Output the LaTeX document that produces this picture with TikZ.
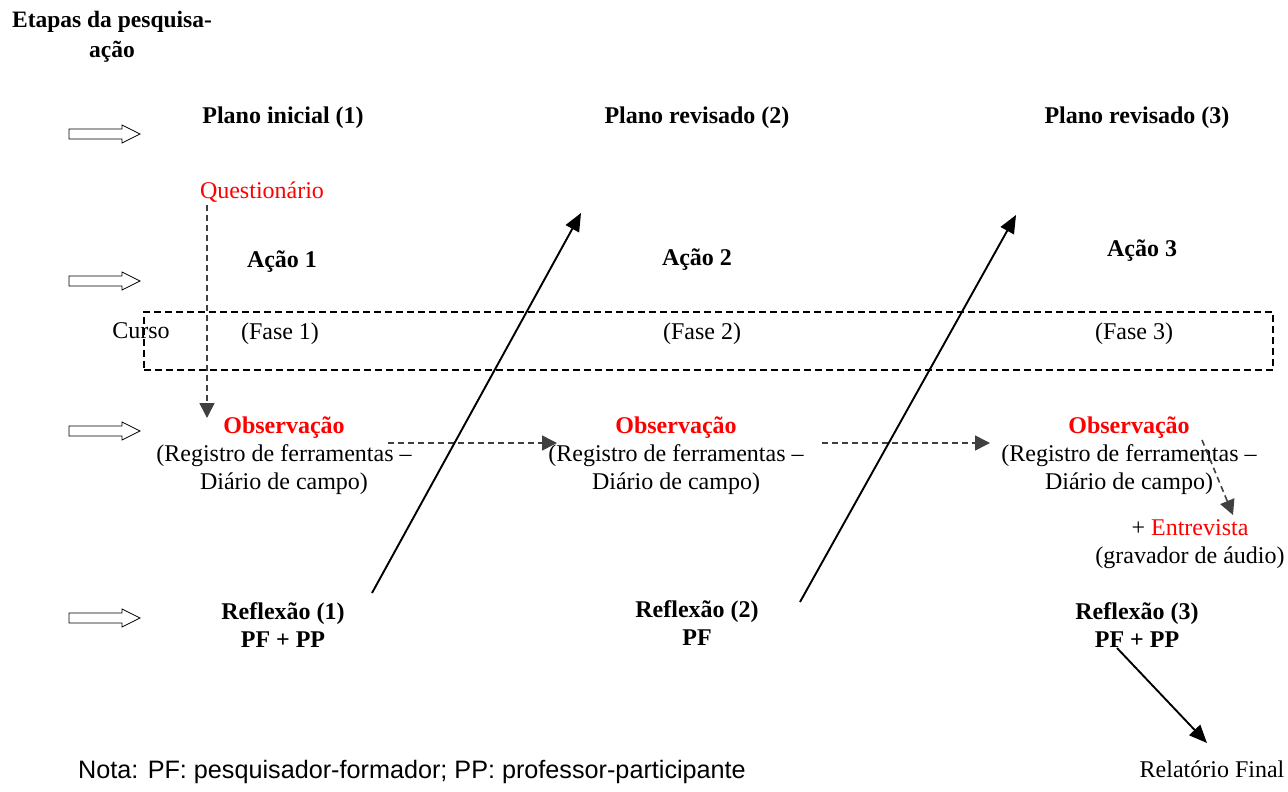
\documentclass[tikz,border=0pt]{standalone}
\usepackage{fontspec}
\setmainfont{Liberation Serif}
\setsansfont{Liberation Sans}
\usetikzlibrary{arrows.meta}
\definecolor{dgray}{HTML}{404040}
\definecolor{pred}{HTML}{FF0000}
\begin{document}
\begin{tikzpicture}[x=1pt,y=-1pt,
  txt/.style={inner sep=0pt, font=\fontsize{24}{28}\selectfont, align=center},
  hd/.style={inner sep=0pt, font=\fontsize{24}{28}\selectfont\bfseries, align=center},
  blockarrow/.style={draw, line width=0.8pt, fill=white},
  solidarrow/.style={-{Triangle[length=18pt,width=15pt]}, line width=1.9pt},
  dasharrow/.style={dgray, line width=1.6pt, dash pattern=on 6pt off 4pt, -{Triangle[length=15pt,width=15pt]}},
  dashbox/.style={draw, line width=1.9pt, dash pattern=on 7pt off 4pt, inner sep=0pt}
]
\useasboundingbox (0,0) rectangle (1288,792);

% block arrows
\foreach \c in {134,281,431,618}
  \draw[blockarrow] (69,\c-5) -- (122,\c-5) -- (122,\c-9) -- (140,\c) -- (122,\c+9) -- (122,\c+5) -- (69,\c+5) -- cycle;

\node[inner sep=0pt, font=\fontsize{23.5}{30}\selectfont\bfseries, align=center] (etapas) at (112,37) {Etapas da pesquisa-\\ação};

\node[hd] (plano1) at (283,118) {Plano inicial (1)};
\node[hd] (plano2) at (697,118) {Plano revisado (2)};
\node[hd] (plano3) at (1137,118) {Plano revisado (3)};

\node[txt, text=pred] (quest) at (262,192) {Questionário};

\node[hd] (acao1) at (282,262) {Ação 1};
\node[hd] (acao2) at (697,260) {Ação 2};
\node[hd] (acao3) at (1142,251) {Ação 3};

\node[dashbox, minimum width=1129pt, minimum height=58pt, anchor=north west] (box) at (143,311) {};
\node[txt] (curso) at (141,331) {Curso};
\node[txt] (fase1) at (280,334) {(Fase 1)};
\node[txt] (fase2) at (702,334) {(Fase 2)};
\node[txt] (fase3) at (1134,334) {(Fase 3)};

\node[txt] (obs1) at (284,456) {\textcolor{pred}{\bfseries Observação}\\(Registro de ferramentas –\\Diário de campo)};
\node[txt] (obs2) at (676,456) {\textcolor{pred}{\bfseries Observação}\\(Registro de ferramentas –\\Diário de campo)};
\node[txt] (obs3) at (1129,456) {\textcolor{pred}{\bfseries Observação}\\(Registro de ferramentas –\\Diário de campo)};

\node[txt] (entrev) at (1190,544) {+ \textcolor{pred}{Entrevista}\\(gravador de áudio)};

\node[hd] (refl1) at (283,625) {Reflexão (1)\\PF + PP};
\node[hd] (refl2) at (697,623) {Reflexão (2)\\PF};
\node[hd] (refl3) at (1137,625) {Reflexão (3)\\PF + PP};

\node[txt] (relat) at (1212,769) {Relatório Final};
\node[inner sep=0pt, font=\sffamily\fontsize{25.2}{28}\selectfont, anchor=west] (nota) at (78,772) {Nota: PF: pesquisador-formador; PP: professor-participante};

% connector end points
\coordinate (q1) at (207,205);
\coordinate (q2) at (207,418);
\coordinate (h1s) at (388,443);
\coordinate (h1e) at (557,443);
\coordinate (h2s) at (822,443);
\coordinate (h2e) at (990,443);
\coordinate (d3s) at (1202,440);
\coordinate (d3e) at (1233,515);
\coordinate (a1s) at (372,593);
\coordinate (a1e) at (581,213);
\coordinate (a2s) at (800,602);
\coordinate (a2e) at (1016,215);
\coordinate (a3s) at (1117,648);
\coordinate (a3e) at (1207,743);

\draw[dasharrow] (q1) -- (q2);
\draw[dasharrow] (h1s) -- (h1e);
\draw[dasharrow] (h2s) -- (h2e);
\draw[dasharrow] (d3s) -- (d3e);

\draw[solidarrow] (a1s) -- (a1e);
\draw[solidarrow] (a2s) -- (a2e);
\draw[solidarrow] (a3s) -- (a3e);
\end{tikzpicture}
\end{document}
